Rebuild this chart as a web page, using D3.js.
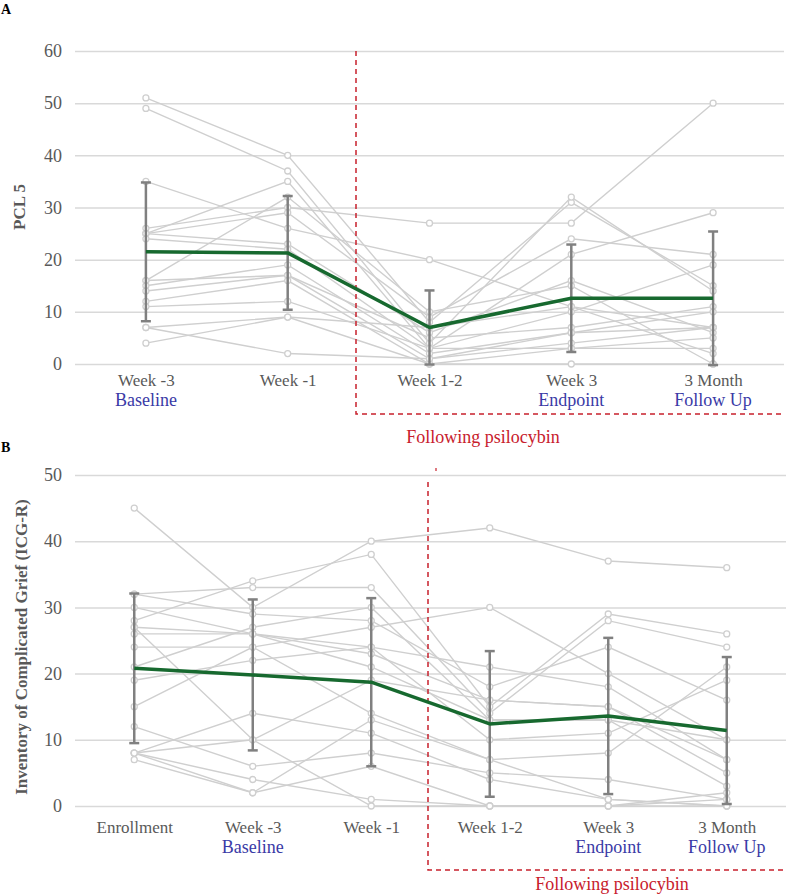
<!DOCTYPE html>
<html>
<head>
<meta charset="utf-8">
<script src="https://cdn.jsdelivr.net/npm/d3@7"></script>
<style>
  body { margin: 0; background: #fff; }
  svg, svg text { font-family: 'Liberation Serif', 'Times New Roman', serif !important; }
</style>
</head>
<body>
<svg id="chart" width="800" height="896"></svg>
<script>
// ---------- Panel A: PCL 5 ----------
const categoriesA = ["Week -3", "Week -1", "Week 1-2", "Week 3", "3 Month"];
const sublabelsA = ["Baseline", "", "", "Endpoint", "Follow Up"];
const ticksA = [0, 10, 20, 30, 40, 50, 60];
const meanA = [21.5, 21.3, 7.0, 12.6, 12.6];
const sdA = [13.3, 10.9, 7.1, 10.3, 12.8];
const participantsA = [
  [51, 40, 8, 31, 15],
  [49, 37, 4, 32, 14],
  [35, 26, 20, 11, 7],
  [26, 30, 27, 27, 50],
  [25, 35, 3, 21, 29],
  [25, 29, 9, 24, 21],
  [25, 23, 6, 16, 6],
  [24, 22, 3, 10, 19],
  [16, 32, 10, 15, 0],
  [16, 17, 5, 7, 11],
  [15, 19, 2, 6, 10],
  [14, 17, 1, 4, 7],
  [12, 16, 0, 3, 5],
  [11, 12, 3, 3, 3],
  [7, 9, 7, 11, 2],
  [4, 9, 0, 0, 0],
  [7, 2, 1, 6, 7]
];

// ---------- Panel B: ICG-R ----------
const categoriesB = ["Enrollment", "Week -3", "Week -1", "Week 1-2", "Week 3", "3 Month"];
const sublabelsB = ["", "Baseline", "", "", "Endpoint", "Follow Up"];
const ticksB = [0, 10, 20, 30, 40, 50];
const meanB = [20.8, 19.8, 18.7, 12.4, 13.6, 11.4];
const sdB = [11.3, 11.4, 12.7, 11.0, 11.8, 11.1];
const participantsB = [
  [45, 30, 40, 42, 37, 36],
  [28, 34, 38, 15, 29, 26],
  [32, 33, 33, 14, 28, 24],
  [24, 24, 27, 30, 20, 10],
  [32, 29, 28, 18, 24, 16],
  [30, 26, 24, 21, 18, 7],
  [27, 26, 23, 16, 15, 5],
  [26, 26, 21, 13, 13, 3],
  [19, 22, 24, 10, 11, 19],
  [15, 24, 14, 7, 8, 21],
  [21, 27, 30, 13, 13, 10],
  [27, 10, 0, 0, 0, 2],
  [12, 6, 8, 5, 4, 1],
  [8, 14, 11, 4, 1, 0],
  [8, 10, 19, 16, 15, 7],
  [8, 4, 1, 0, 0, 0],
  [7, 2, 6, 0, 0, 1],
  [8, 2, 13, 7, 1, 0]
];

const FONT = "'Liberation Serif', 'Times New Roman', serif";
const svg = d3.select("#chart");
const C = {
  grid: "#d9d9d9", tick: "#595959", ind: "#cfcfcf", err: "#808080",
  mean: "#17692f", blue: "#3a3aa6", red: "#c8202c"
};

function drawPanel(opt) {
  const g = svg.append("g").attr("font-family", FONT);
  const x = d3.scalePoint().domain(opt.categories).range([opt.x0, opt.x1]).padding(0.5);
  const y = d3.scaleLinear().domain([0, opt.ymax]).range([opt.yBottom, opt.yTop]);

  // y axis with gridlines
  const ya = g.append("g").attr("transform", `translate(${opt.x0},0)`)
    .call(d3.axisLeft(y).tickValues(opt.ticks).tickSize(-(opt.x1 - opt.x0)).tickPadding(13))
    .attr("font-family", FONT);
  ya.select(".domain").remove();
  ya.selectAll(".tick line").attr("stroke", C.grid).attr("stroke-width", 1.5);
  ya.selectAll(".tick text").attr("fill", C.tick).attr("font-size", 18);

  // x axis labels
  const xa = g.append("g").attr("transform", `translate(0,${opt.yBottom})`)
    .call(d3.axisBottom(x).tickSize(0).tickPadding(opt.xPad))
    .attr("font-family", FONT);
  xa.select(".domain").remove();
  xa.selectAll(".tick text").attr("fill", C.tick).attr("font-size", 17);
  g.selectAll(".sub").data(opt.categories).join("text")
    .attr("x", d => x(d)).attr("y", opt.yBottom + opt.subOff)
    .attr("text-anchor", "middle").attr("fill", C.blue).attr("font-size", 18)
    .text((d, i) => opt.sublabels[i]);

  // y title
  g.append("text")
    .attr("transform", `translate(${opt.titleX},${opt.titleY}) rotate(-90)`)
    .attr("text-anchor", "middle").attr("fill", C.tick)
    .attr("font-size", 17).attr("font-weight", "bold").text(opt.title);

  // panel letter
  g.append("text").attr("x", 1).attr("y", opt.letterY).attr("font-size", 14)
    .attr("font-weight", "bold").attr("fill", "#000").text(opt.letter);

  // individual trajectories
  const line = d3.line().x((d, i) => x(opt.categories[i])).y(d => y(d));
  g.append("g").selectAll("path").data(opt.participants).join("path")
    .attr("d", line).attr("fill", "none").attr("stroke", C.ind).attr("stroke-width", 1.4);
  const pts = opt.participants.flatMap(p => p.map((v, i) => ({ v, i })));
  g.append("g").selectAll("circle").data(pts).join("circle")
    .attr("cx", d => x(opt.categories[d.i])).attr("cy", d => y(d.v)).attr("r", 3)
    .attr("fill", "#fff").attr("stroke", C.ind).attr("stroke-width", 1.3);

  // red dashed bracket
  const rx = opt.redX;
  g.append("path")
    .attr("d", `M${rx},${opt.redTop}V${opt.redBottom}H${opt.x1}`)
    .attr("fill", "none").attr("stroke", C.red).attr("stroke-width", 1.5)
    .attr("stroke-dasharray", "5,4");
  if (opt.redDot) {
    g.append("line").attr("x1", opt.redDot[0]).attr("x2", opt.redDot[0])
      .attr("y1", opt.redDot[1]).attr("y2", opt.redDot[1] + 3)
      .attr("stroke", C.red).attr("stroke-width", 1.2);
  }
  g.append("text").attr("x", opt.redTextX).attr("y", opt.redTextY)
    .attr("text-anchor", "middle").attr("fill", C.red).attr("font-size", 18)
    .text("Following psilocybin");

  // error bars
  const eb = g.append("g").selectAll("g").data(opt.mean).join("g");
  const cap = 5;
  eb.append("line").attr("x1", (d, i) => x(opt.categories[i])).attr("x2", (d, i) => x(opt.categories[i]))
    .attr("y1", (d, i) => y(d - opt.sd[i])).attr("y2", (d, i) => y(d + opt.sd[i]))
    .attr("stroke", C.err).attr("stroke-width", 2.5);
  eb.append("line").attr("x1", (d, i) => x(opt.categories[i]) - cap).attr("x2", (d, i) => x(opt.categories[i]) + cap)
    .attr("y1", (d, i) => y(d + opt.sd[i])).attr("y2", (d, i) => y(d + opt.sd[i]))
    .attr("stroke", C.err).attr("stroke-width", 2.5);
  eb.append("line").attr("x1", (d, i) => x(opt.categories[i]) - cap).attr("x2", (d, i) => x(opt.categories[i]) + cap)
    .attr("y1", (d, i) => y(d - opt.sd[i])).attr("y2", (d, i) => y(d - opt.sd[i]))
    .attr("stroke", C.err).attr("stroke-width", 2.5);

  // mean line
  g.append("path").datum(opt.mean).attr("d", line).attr("fill", "none")
    .attr("stroke", C.mean).attr("stroke-width", 3.5).attr("stroke-linejoin", "round");
}

drawPanel({
  categories: categoriesA, sublabels: sublabelsA, ticks: ticksA, ymax: 60,
  mean: meanA, sd: sdA, participants: participantsA,
  x0: 75, x1: 784, yTop: 51, yBottom: 364, xPad: 10, subOff: 42,
  title: "PCL 5", titleX: 25, titleY: 207, letter: "A", letterY: 14,
  redX: 356, redTop: 51, redBottom: 414, redTextX: 483, redTextY: 443
});

drawPanel({
  categories: categoriesB, sublabels: sublabelsB, ticks: ticksB, ymax: 50,
  mean: meanB, sd: sdB, participants: participantsB,
  x0: 75, x1: 786, yTop: 475, yBottom: 806, xPad: 15, subOff: 47,
  title: "Inventory of Complicated Grief (ICG-R)", titleX: 27, titleY: 647, letter: "B", letterY: 452,
  redX: 428, redTop: 482, redBottom: 870, redTextX: 612, redTextY: 890, redDot: [436, 468]
});
</script>
</body>
</html>
